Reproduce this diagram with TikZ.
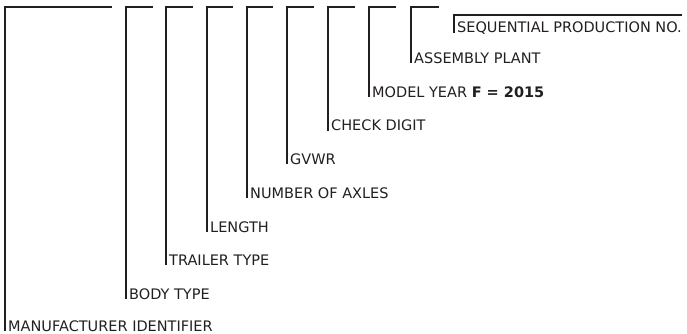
\documentclass[tikz,border=0pt]{standalone}
\usepackage{fontspec}
\setmainfont{DejaVu Sans}
\definecolor{inkgray}{HTML}{231F20}
\tikzset{
  field/.style={anchor=base west, inner xsep=3pt, inner ysep=0pt,
    font=\fontsize{14.5}{17}\selectfont, text=inkgray},
  bracket/.style={draw=inkgray, line width=2pt}
}
\begin{document}
\begin{tikzpicture}[x=1pt,y=-1pt]
  \useasboundingbox (0,0) rectangle (687,333);
  % labels
  \node[field] (M) at (5,331) {MANUFACTURER IDENTIFIER};
  \node[field] (B) at (126,299) {BODY TYPE};
  \node[field] (T) at (166,265) {TRAILER TYPE};
  \node[field] (L) at (207,232) {LENGTH};
  \node[field] (A) at (247,198) {NUMBER OF AXLES};
  \node[field] (G) at (287,164) {GVWR};
  \node[field] (C) at (328,130.5) {CHECK DIGIT};
  \node[field] (Y) at (369,97) {MODEL YEAR \textbf{F = 2015}};
  \node[field] (P) at (411,63) {ASSEMBLY PLANT};
  \node[field] (S) at (454,32.5) {SEQUENTIAL PRODUCTION NO.};
  % bracket ends
  \coordinate (Mt) at (112,7);
  \coordinate (Bt) at (153,7);
  \coordinate (Tt) at (193,7);
  \coordinate (Lt) at (233,7);
  \coordinate (At) at (273,7);
  \coordinate (Gt) at (314,7);
  \coordinate (Ct) at (355,7);
  \coordinate (Yt) at (396,7);
  \coordinate (Pt) at (439,7);
  \coordinate (St) at (682,15);
  \draw[bracket] (Mt) -| (M.base west);
  \draw[bracket] (Bt) -| (B.base west);
  \draw[bracket] (Tt) -| (T.base west);
  \draw[bracket] (Lt) -| (L.base west);
  \draw[bracket] (At) -| (A.base west);
  \draw[bracket] (Gt) -| (G.base west);
  \draw[bracket] (Ct) -| (C.base west);
  \draw[bracket] (Yt) -| (Y.base west);
  \draw[bracket] (Pt) -| (P.base west);
  \draw[bracket] (St) -| (S.base west);
\end{tikzpicture}
\end{document}
